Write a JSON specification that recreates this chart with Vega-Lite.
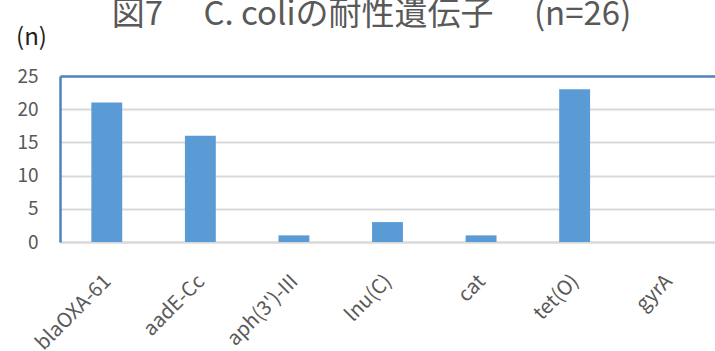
{
  "$schema": "https://vega.github.io/schema/vega-lite/v6.json",
  "autosize": {"type": "none"},
  "padding": {"left": 60, "top": 76, "right": 0, "bottom": 109},
  "width": 655,
  "height": 166,
  "background": "white",
  "title": {
    "text": "図7　 C. coliの耐性遺伝子　 (n=26)",
    "font": "Noto Sans CJK JP",
    "fontSize": 33,
    "fontWeight": "normal",
    "color": "#595959",
    "anchor": "middle",
    "baseline": "bottom",
    "dx": -16,
    "offset": -40
  },
  "data": {
    "values": [
      {"gene": "blaOXA-61", "n": 21},
      {"gene": "aadE-Cc", "n": 16},
      {"gene": "aph(3')-III", "n": 1},
      {"gene": "lnu(C)", "n": 3},
      {"gene": "cat", "n": 1},
      {"gene": "tet(O)", "n": 23},
      {"gene": "gyrA", "n": 0}
    ]
  },
  "mark": {"type": "bar", "color": "#5b9bd5"},
  "encoding": {
    "x": {
      "field": "gene",
      "type": "nominal",
      "sort": null,
      "scale": {"paddingInner": 0.67, "paddingOuter": 0.335},
      "axis": {
        "title": null,
        "labelAngle": -45,
        "labelAlign": "right",
        "labelBaseline": "middle",
        "labelFont": "Noto Sans CJK JP",
        "labelFontSize": 20,
        "labelColor": "#595959",
        "labelPadding": 36,
        "labelOffset": 1,
        "ticks": false,
        "domainColor": "#d9d9d9",
        "domainWidth": 2
      }
    },
    "y": {
      "field": "n",
      "type": "quantitative",
      "scale": {"domain": [0, 25], "nice": false},
      "axis": {
        "values": [0, 5, 10, 15, 20, 25],
        "title": "(n)",
        "titleAngle": 0,
        "titleAlign": "center",
        "titleBaseline": "middle",
        "titleX": -29,
        "titleY": -39,
        "titleFont": "Noto Sans CJK JP",
        "titleFontSize": 24,
        "titleFontWeight": "normal",
        "titleColor": "#222222",
        "labelFont": "Noto Sans CJK JP",
        "labelFontSize": 19,
        "labelColor": "#595959",
        "labelPadding": 22,
        "ticks": false,
        "domainColor": "#4f81bd",
        "domainWidth": 2.5,
        "gridColor": {"condition": {"test": "datum.value === 25", "value": "#4f81bd"}, "value": "#d9d9d9"},
        "gridWidth": {"condition": {"test": "datum.value === 25", "value": 2.5}, "value": 2}
      }
    }
  },
  "config": {"view": {"stroke": null}}
}
